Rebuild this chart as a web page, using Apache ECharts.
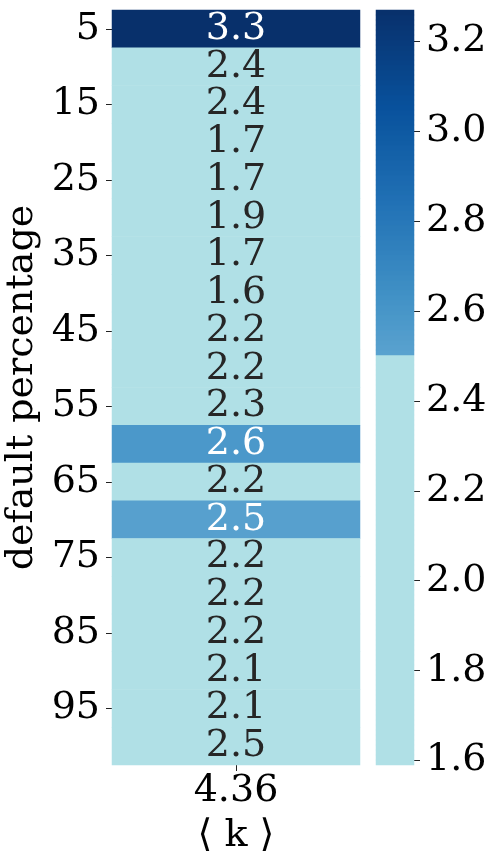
<!DOCTYPE html>
<html>
<head>
<meta charset="utf-8">
<script src="https://cdn.jsdelivr.net/npm/echarts@6/dist/echarts.min.js"></script>
<style>
  html, body { margin: 0; padding: 0; background: #fff; }
  #chart { width: 495px; height: 866px; }
</style>
</head>
<body>
<div id="chart"></div>
<script>
// data
var rowLabels = ['5','10','15','20','25','30','35','40','45','50','55','60','65','70','75','80','85','90','95','100'];
var colLabels = ['4.36'];
var values = [3.27, 2.42, 2.38, 1.69, 1.72, 1.88, 1.70, 1.59, 2.21, 2.18, 2.32, 2.58, 2.22, 2.52, 2.19, 2.20, 2.17, 2.12, 2.08, 2.46];
var barTicks = [1.6, 1.8, 2.0, 2.2, 2.4, 2.6, 2.8, 3.0, 3.2];

var vMin = 1.59, vMax = 3.27, cut = 2.5;
var font = 'DejaVu Serif';
var fs = 38;
var light = '#b0e0e6';
// matplotlib Blues stops
var blues = ['#f7fbff','#deebf7','#c6dbef','#9ecae1','#6baed6','#4292c6','#2171b5','#08519c','#08306b'];

function hex2rgb(h){ return [parseInt(h.substr(1,2),16), parseInt(h.substr(3,2),16), parseInt(h.substr(5,2),16)]; }
function bluesAt(t){
  var p = t * (blues.length - 1);
  var i = Math.min(Math.floor(p), blues.length - 2);
  var f = p - i;
  var a = hex2rgb(blues[i]), b = hex2rgb(blues[i+1]);
  return 'rgb(' + a.map(function(x, k){ return Math.round(x + (b[k]-x)*f); }).join(',') + ')';
}

// colour ramp: light below the cut, upper part of Blues above it
var ramp = [];
var n = 1000;
for (var i = 0; i < n; i++) {
  var v = vMin + (vMax - vMin) * i / (n - 1);
  ramp.push(v < cut ? light : bluesAt(0.55 + 0.45 * (v - cut) / (vMax - cut)));
}

var cells = values.map(function(v, i){
  return { value: [0, i, v], label: { color: v >= cut ? '#ffffff' : '#262626' } };
});

// colour bar: stepped levels, bottom to top (151 steps -> 5px each)
var nSteps = 151;
var barRows = [], barCells = [];
for (var j = 0; j < nSteps; j++) {
  barRows.push(String(j));
  barCells.push([0, j, vMin + (vMax - vMin) * (j + 0.5) / nSteps]);
}

var chart = echarts.init(document.getElementById('chart'));
chart.setOption({
  animation: false,
  textStyle: { fontFamily: font },
  grid: [
    { left: 112, top: 10, width: 248, height: 755, outerBoundsMode: 'none' },
    { left: 376, top: 10, width: 38, height: 755, outerBoundsMode: 'none' }
  ],
  xAxis: [{
    type: 'category',
    data: colLabels,
    axisLine: { show: false },
    axisTick: { show: true, alignWithLabel: true, length: 6, lineStyle: { color: '#222' } },
    axisLabel: { fontSize: fs, color: '#000', fontFamily: font, margin: 7 },
    name: '\u27e8 k \u27e9',
    nameLocation: 'middle',
    nameGap: 52,
    nameTextStyle: { fontSize: fs, color: '#000', fontFamily: font },
    splitLine: { show: false }
  }, {
    type: 'category', gridIndex: 1, data: [''], show: false
  }],
  yAxis: [{
    type: 'category',
    data: rowLabels,
    inverse: true,
    axisLine: { show: false },
    axisTick: { show: true, alignWithLabel: true, interval: 1, length: 6, lineStyle: { color: '#222' } },
    axisLabel: { fontSize: fs, color: '#000', fontFamily: font, interval: 1, margin: 12 },
    name: 'default percentage',
    nameLocation: 'middle',
    nameGap: 66,
    nameTextStyle: { fontSize: fs, color: '#000', fontFamily: font },
    splitLine: { show: false }
  }, {
    type: 'value',
    gridIndex: 1,
    min: vMin,
    max: vMax,
    position: 'right',
    axisLine: { show: false },
    axisTick: { show: true, length: 6, customValues: barTicks, lineStyle: { color: '#222' } },
    axisLabel: {
      fontSize: fs, color: '#000', fontFamily: font, margin: 12,
      customValues: barTicks,
      formatter: function(v){ return v.toFixed(1); }
    },
    splitLine: { show: false }
  }, {
    type: 'category', gridIndex: 1, data: barRows, position: 'left', show: false
  }],
  visualMap: {
    type: 'continuous',
    show: false,
    seriesIndex: [0, 1],
    min: vMin,
    max: vMax,
    inRange: { color: ramp }
  },
  series: [{
    type: 'heatmap',
    xAxisIndex: 0,
    yAxisIndex: 0,
    data: cells,
    label: {
      show: true,
      fontSize: fs,
      fontFamily: font,
      formatter: function(p){ return p.value[2].toFixed(1); }
    },
    emphasis: { disabled: true }
  }, {
    type: 'heatmap',
    xAxisIndex: 1,
    yAxisIndex: 2,
    data: barCells,
    label: { show: false },
    emphasis: { disabled: true },
    silent: true
  }]
});
</script>
</body>
</html>
